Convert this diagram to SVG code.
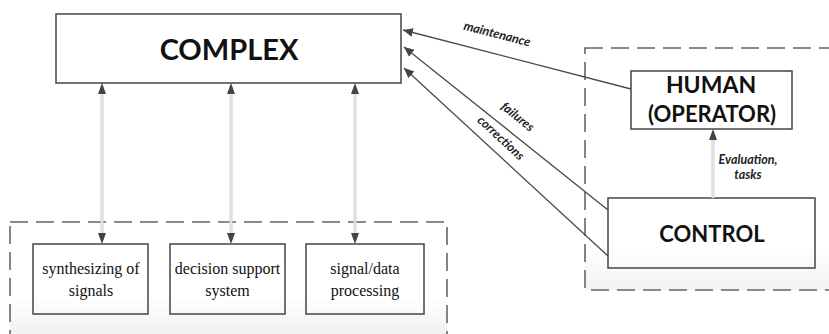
<svg xmlns="http://www.w3.org/2000/svg" width="829" height="334" viewBox="0 0 829 334">
<defs>
<style>
.box{fill:none;stroke:#444;stroke-width:1.5}
.dash{stroke:#666;stroke-width:1.6;stroke-dasharray:18 8}
.big{font-family:Lato,"Open Sans","Liberation Sans",sans-serif;font-weight:bold;fill:#111;text-anchor:middle}
.ser{font-family:"Liberation Serif","Times New Roman",serif;font-size:16px;fill:#111;text-anchor:middle}
.lbl{font-family:Lato,"Open Sans","Liberation Sans",sans-serif;font-weight:bold;font-style:italic;font-size:12.5px;fill:#222;text-anchor:middle}
.dk{stroke:#4a4a4a;stroke-width:1.3;fill:none}
.lt{stroke:#cfcfcf;stroke-width:3;fill:none}
.lti{stroke:#f2f2f2;stroke-width:1;fill:none}
.head{fill:#444}
</style>
<marker id="ah" viewBox="0 0 10 10" refX="10" refY="5" markerWidth="10" markerHeight="10" markerUnits="userSpaceOnUse" orient="auto">
<path d="M0,0.5 L10,5 L0,9.5 Z" fill="#444"/>
</marker>
<linearGradient id="g1" x1="0" y1="0" x2="0" y2="1">
<stop offset="0.62" stop-color="#fff"/>
<stop offset="1" stop-color="#eeeeee"/>
</linearGradient>
<linearGradient id="g2" x1="0" y1="0" x2="0" y2="1">
<stop offset="0.82" stop-color="#fff"/>
<stop offset="1" stop-color="#f2f2f2"/>
</linearGradient>
</defs>
<rect width="829" height="334" fill="#fff"/>

<g id="group-bottom">
<rect x="10" y="222" width="437" height="120" fill="url(#g1)" class="dash"/>
</g>
<g id="group-right">
<rect x="585" y="48" width="255" height="242" fill="url(#g2)" class="dash"/>
</g>

<g id="complex">
<rect x="56" y="14" width="345" height="69" class="box" fill="#fff"/>
<text x="229" y="60" class="big" font-size="29">COMPLEX</text>
</g>

<g id="synth">
<rect x="33" y="244" width="115" height="70" class="box"/>
<text x="91" y="274" class="ser" font-size="17">synthesizing of</text>
<text x="91" y="296" class="ser" font-size="17">signals</text>
</g>
<g id="decision">
<rect x="170" y="244" width="115" height="70" class="box"/>
<text x="227.5" y="274" class="ser">decision support</text>
<text x="227.5" y="296" class="ser">system</text>
</g>
<g id="signal">
<rect x="306" y="244" width="118" height="70" class="box"/>
<text x="365" y="274" class="ser">signal/data</text>
<text x="365" y="296" class="ser">processing</text>
</g>

<g id="human">
<rect x="631" y="71" width="161" height="58" class="box"/>
<text x="711" y="93" class="big" font-size="23">HUMAN</text>
<text x="712" y="122" class="big" font-size="22">(OPERATOR)</text>
</g>
<g id="control">
<rect x="608" y="198" width="207" height="70" class="box"/>
<text x="712" y="242" class="big" font-size="22">CONTROL</text>
</g>

<g id="connectors">
<line x1="102" y1="86" x2="102" y2="240" class="lt"/>
<line x1="102" y1="86" x2="102" y2="240" class="lti"/>
<path d="M102,83 L106,94 L98,94 Z" class="head"/>
<path d="M102,244 L106,233 L98,233 Z" class="head"/>

<line x1="231" y1="86" x2="231" y2="240" class="lt"/>
<line x1="231" y1="86" x2="231" y2="240" class="lti"/>
<path d="M231,83 L235,94 L227,94 Z" class="head"/>
<path d="M231,244 L235,233 L227,233 Z" class="head"/>

<line x1="355" y1="86" x2="355" y2="240" class="lt"/>
<line x1="355" y1="86" x2="355" y2="240" class="lti"/>
<path d="M355,83 L359,94 L351,94 Z" class="head"/>
<path d="M355,244 L359,233 L351,233 Z" class="head"/>

<line x1="713" y1="198" x2="713" y2="132" class="lt"/>
<line x1="713" y1="198" x2="713" y2="132" class="lti"/>
<path d="M713,129 L717,140 L709,140 Z" class="head"/>

<line x1="631" y1="89" x2="403" y2="30" class="dk" marker-end="url(#ah)"/>
<line x1="608" y1="210" x2="404" y2="47" class="dk" marker-end="url(#ah)"/>
<line x1="608" y1="256" x2="404" y2="68" class="dk" marker-end="url(#ah)"/>

<text class="lbl" transform="translate(496,38) rotate(14.5)">maintenance</text>
<text class="lbl" transform="translate(515,120) rotate(38.8)">failures</text>
<text class="lbl" transform="translate(498,141) rotate(42.8)">corrections</text>
<text class="lbl" x="748" y="164" font-size="13">Evaluation,</text>
<text class="lbl" x="748" y="179" font-size="13">tasks</text>
</g>
</svg>
